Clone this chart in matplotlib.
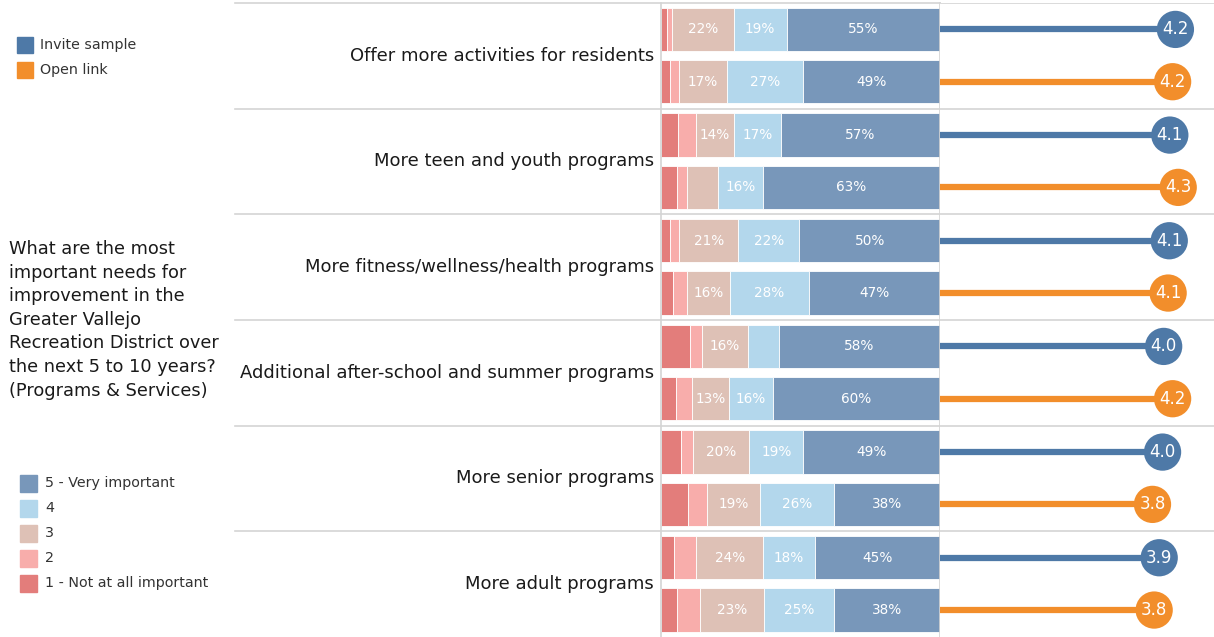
import numpy as np
import matplotlib
matplotlib.use("Agg")
import matplotlib.pyplot as plt
import matplotlib.transforms as mtransforms

plt.rcParams['font.family'] = ['DejaVu Sans']

categories = ["Offer more activities for residents",
              "More teen and youth programs",
              "More fitness/wellness/health programs",
              "Additional after-school and summer programs",
              "More senior programs",
              "More adult programs"]

levels = ["1 - Not at all important", "2", "3", "4", "5 - Very important"]
level_colors = ["#E37D7B", "#F8ADAB", "#DEC1B6", "#B3D7EC", "#7897BA"]

# percent of respondents, one list per answer level (Invite sample / Open link)
inv_1 = [2.0, 6.0, 3.4, 10.5, 7.2, 4.8]
inv_2 = [2.0, 6.5, 3.2, 4.2, 4.4, 7.8]
inv_3 = [22.0, 13.6, 21.1, 16.4, 20.1, 24.1]
inv_4 = [19.0, 17.0, 21.9, 11.1, 19.3, 18.4]
inv_5 = [55.0, 56.9, 50.4, 57.8, 49.0, 44.9]

open_1 = [3.4, 5.6, 4.2, 5.3, 9.7, 5.7]
open_2 = [3.0, 3.7, 5.1, 5.7, 6.7, 8.2]
open_3 = [17.2, 11.2, 15.6, 13.4, 19.2, 23.1]
open_4 = [27.4, 16.1, 28.0, 15.8, 26.4, 25.1]
open_5 = [49.0, 63.4, 47.1, 59.8, 38.0, 37.9]

# average rating (1-5)
mean_invite = [4.21, 4.11, 4.10, 4.00, 3.98, 3.92]
mean_open = [4.16, 4.26, 4.08, 4.16, 3.80, 3.83]

samples = ["Invite sample", "Open link"]
sample_colors = ["#4E79A7", "#F28E2B"]

W, H = 1214, 637
fig = plt.figure(figsize=(W / 100, H / 100), dpi=100)

top_px, bot_px = 3, 637
x_bar0, x_bar1 = 661, 940
ax = fig.add_axes([x_bar0 / W, 1 - bot_px / H, (x_bar1 - x_bar0) / W, (bot_px - top_px) / H])
ax2 = fig.add_axes([x_bar1 / W, 1 - bot_px / H, (W - x_bar1) / W, (bot_px - top_px) / H], sharey=ax)

n = len(categories)
inv = np.array([inv_1, inv_2, inv_3, inv_4, inv_5])
opn = np.array([open_1, open_2, open_3, open_4, open_5])
y_inv = np.arange(n) + 0.25
y_open = np.arange(n) + 0.745
bar_h = 0.41

for data, ys in ((inv, y_inv), (opn, y_open)):
    left = np.zeros(n)
    for k in range(5):
        ax.barh(ys, data[k], left=left, height=bar_h, color=level_colors[k],
                edgecolor="white", linewidth=0.6)
        for i in range(n):
            if data[k][i] >= 12:
                ax.text(left[i] + data[k][i] / 2, ys[i], f"{data[k][i]:.0f}%",
                        ha="center", va="center", color="white", fontsize=9.8)
        left += data[k]

ax.set_xlim(0, 100)
ax.set_ylim(n, 0)
ax.set_xticks([])
ax.set_yticks([])
for s in ["top", "bottom"]:
    ax.spines[s].set_visible(False)
for s in ["left", "right"]:
    ax.spines[s].set_color("#d4d4d4")
    ax.spines[s].set_linewidth(1.2)

# separators
x_ext = (235 - x_bar0) / (x_bar1 - x_bar0)
for g in range(n):
    ax.axhline(g, xmin=x_ext, xmax=1, color="#d4d4d4", lw=1.2, clip_on=False)
    ax2.axhline(g, color="#d4d4d4", lw=1.2)

trans = mtransforms.blended_transform_factory(ax.transAxes, ax.transData)
for i, c in enumerate(categories):
    ax.text(-0.025, i + 0.5, c, transform=trans, ha="right", va="center",
            fontsize=13, color="#1a1a1a")

# lollipops
for means, ys, col in ((mean_invite, y_inv, sample_colors[0]), (mean_open, y_open, sample_colors[1])):
    ax2.hlines(ys, 0, means, color=col, lw=4.5)
    ax2.scatter(means, ys, s=720, color=col, zorder=3, edgecolors="none")
    for m, y in zip(means, ys):
        ax2.text(m, y, f"{m:.1f}", ha="center", va="center", color="white", fontsize=12, zorder=4)
ax2.set_xlim(0, 4.9)
ax2.set_xticks([])
ax2.tick_params(left=False, labelleft=False)
for s in ax2.spines.values():
    s.set_visible(False)

# title text on the left
fig.text(9 / W, 1 - 240 / H,
         "What are the most\nimportant needs for\nimprovement in the\nGreater Vallejo\nRecreation District over\nthe next 5 to 10 years?\n(Programs & Services)",
         ha="left", va="top", fontsize=12.8, color="#1a1a1a", linespacing=1.4)

# legends
for j, (lab, col) in enumerate(zip(samples, sample_colors)):
    yc = 45 + j * 25
    fig.patches.append(plt.Rectangle((17 / W, 1 - (yc + 8) / H), 16 / W, 16 / H,
                                     transform=fig.transFigure, color=col))
    fig.text(40 / W, 1 - yc / H, lab, ha="left", va="center", fontsize=10.3, color="#333333")

for j, k in enumerate(range(4, -1, -1)):
    yc = 483 + j * 25
    fig.patches.append(plt.Rectangle((20 / W, 1 - (yc + 8.5) / H), 17 / W, 17 / H,
                                     transform=fig.transFigure, color=level_colors[k]))
    fig.text(45 / W, 1 - yc / H, levels[k], ha="left", va="center", fontsize=10.3, color="#333333")

fig.savefig("out.png", dpi=100)
